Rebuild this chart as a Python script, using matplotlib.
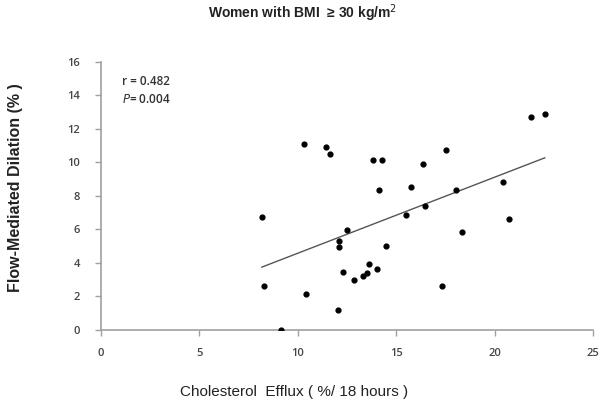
import numpy as np
import matplotlib
matplotlib.use('Agg')
import matplotlib.pyplot as plt

# cholesterol efflux (% / 18 h) vs flow-mediated dilation (%)
efflux = [8.18, 8.29, 9.13, 10.30, 10.42, 11.42, 11.64, 12.05, 12.08, 12.08,
          12.28, 12.52, 12.88, 13.32, 13.52, 13.60, 13.83, 14.01, 14.11, 14.27,
          14.50, 15.52, 15.78, 16.35, 16.47, 17.32, 17.52, 18.03, 18.37, 20.42,
          20.71, 21.83, 22.55]
fmd = [6.72, 2.60, 0.00, 11.11, 2.17, 10.91, 10.51, 1.17, 5.33, 4.93,
       3.48, 5.98, 2.96, 3.22, 3.42, 3.94, 10.12, 3.62, 8.35, 10.12,
       4.99, 6.84, 8.55, 9.92, 7.37, 2.60, 10.71, 8.35, 5.84, 8.81,
       6.64, 12.68, 12.90]
x_ticks = [0, 5, 10, 15, 20, 25]
y_ticks = [0, 2, 4, 6, 8, 10, 12, 14, 16]

fig = plt.figure(figsize=(6.01, 4.07), dpi=100)
ax = fig.add_axes([0.1676, 0.1892, 0.8191, 0.6592])

ax.scatter(efflux, fmd, s=12, color='black', zorder=3)

# trend line
slope, inter = np.polyfit(efflux, fmd, 1)
xl = np.array([min(efflux), max(efflux)])
ax.plot(xl, slope * xl + inter, color='#555555', lw=1)

ax.set_xlim(0, 25)
ax.set_ylim(0, 16)
ax.set_xticks(x_ticks)
ax.set_yticks(y_ticks)
for s in ['top', 'right']:
    ax.spines[s].set_visible(False)
for s in ['left', 'bottom']:
    ax.spines[s].set_color('#a0a0a0')
    ax.spines[s].set_linewidth(1.2)
ax.tick_params(colors='#a0a0a0', labelcolor='#444444', labelsize=8, length=4, width=1)
ax.tick_params(axis='x', pad=9)
ax.tick_params(axis='y', pad=11)
for lab in ax.get_xticklabels() + ax.get_yticklabels():
    lab.set_family('Open Sans')
    lab.set_fontweight('semibold')

ax.text(0.043, 0.915, 'r = 0.482', transform=ax.transAxes, fontsize=8.5,
        family='Open Sans', color='#333333', fontweight='semibold')
ax.text(0.043, 0.845, '$\\it{P}$= 0.004', transform=ax.transAxes, fontsize=8.5,
        family='Open Sans', color='#333333', fontweight='semibold')

fig.text(0.504, 0.968, 'Women with BMI  \u2265 30 kg/m$^2$', ha='center', va='center',
         fontsize=10, fontweight='bold', family='Liberation Sans', color='#222222')
fig.text(0.025, 0.54, 'Flow-Mediated Dilation (% )', rotation=90, ha='center', va='center',
         fontsize=11.5, fontweight='bold', family='Liberation Sans', color='#222222')
fig.text(0.49, 0.037, 'Cholesterol  Efflux ( %/ 18 hours )', ha='center', va='center',
         fontsize=11, family='Liberation Sans', color='#222222')

fig.savefig('out.png', dpi=100)
